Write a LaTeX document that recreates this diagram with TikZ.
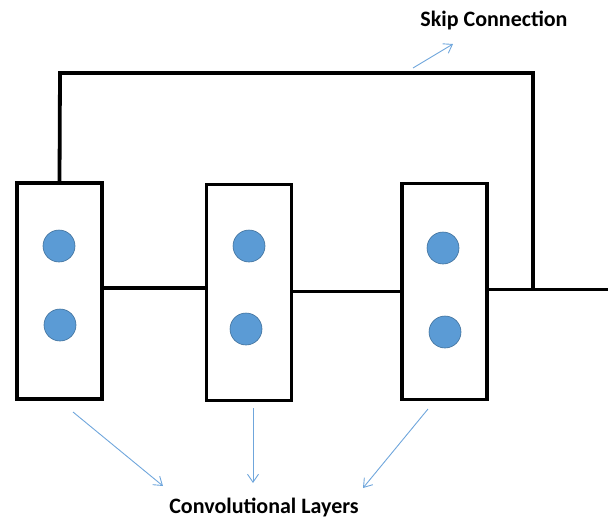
\documentclass[tikz,border=0pt]{standalone}
\usepackage{fontspec}
\setmainfont{Carlito}
\usetikzlibrary{arrows.meta}
\definecolor{dotfill}{HTML}{5B9BD5}
\definecolor{dotline}{HTML}{41719C}
\definecolor{arrowblue}{HTML}{6FA6DC}
\tikzset{
  convbox/.style={draw=black, line width=3.8pt, minimum width=85pt, minimum height=216pt, inner sep=0pt, fill=white},
  neuron/.style={circle, fill=dotfill, draw=dotline, line width=0.6pt, minimum size=32pt, inner sep=0pt},
  wire/.style={draw=black, line width=3.8pt, line join=miter},
  pointer/.style={draw=arrowblue, line width=0.9pt, -{Straight Barb[length=8pt,width=11pt]}},
  label/.style={font=\fontsize{22}{26}\selectfont\bfseries, text=black, inner sep=0pt}
}
\begin{document}
\begin{tikzpicture}[x=1pt,y=-1pt]
\useasboundingbox (0,0) rectangle (611,520);
% boxes
\node[convbox] (b1) at (59.5,291) {};
\node[convbox] (b2) at (249,292.5) {};
\node[convbox] (b3) at (444.5,291.5) {};
% neurons
\node[neuron] (n11) at (59,246) {};
\node[neuron] (n12) at (60,325) {};
\node[neuron] (n21) at (249,246) {};
\node[neuron] (n22) at (246,329) {};
\node[neuron] (n31) at (443,248) {};
\node[neuron] (n32) at (445,332) {};
% wires
\coordinate (j) at (533,289.5);
\coordinate (out) at (608,289.5);
\coordinate (tl) at (60,73);
\draw[wire] (b1.east |- 0,288) -- (b2.west |- 0,288);
\draw[wire] (b2.east |- 0,291.5) -- (b3.west |- 0,291.5);
\draw[wire] (b3.east |- j) -- (out);
\draw[wire] (b1.north) -- (tl) -| (j);
% labels
\node[label] (skip) at (494,20) {Skip Connection};
\node[label] (conv) at (264,507) {Convolutional Layers};
% pointers
\coordinate (s0) at (413,68);
\coordinate (s1) at (453,44);
\draw[pointer] (s0) -- (s1);
\coordinate (p1) at (73,412);
\coordinate (q1) at (163,486);
\coordinate (p2) at (253,408);
\coordinate (q2) at (253,483);
\coordinate (p3) at (428,409);
\coordinate (q3) at (363,488);
\draw[pointer] (p1) -- (q1);
\draw[pointer] (p2) -- (q2);
\draw[pointer] (p3) -- (q3);
\end{tikzpicture}
\end{document}
